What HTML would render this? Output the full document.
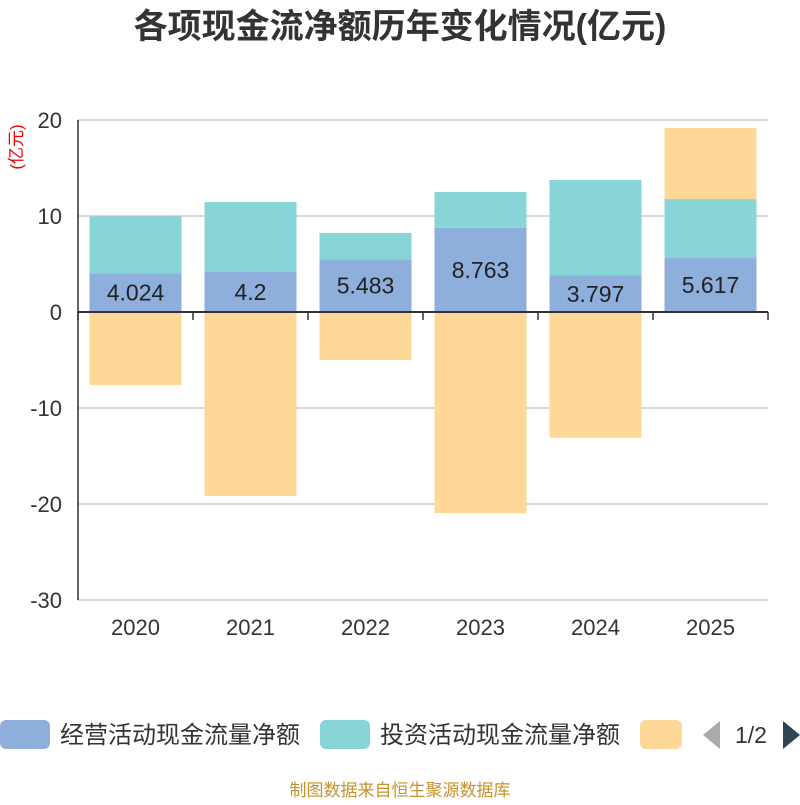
<!DOCTYPE html>
<html><head><meta charset="utf-8"><style>
body{margin:0;background:#fff;}
svg text{font-family:"Liberation Sans","Noto Sans CJK SC",sans-serif;}
</style></head><body>
<svg id="chart" width="800" height="800" xmlns="http://www.w3.org/2000/svg">
<text x="400" y="38" text-anchor="middle" font-size="34" font-weight="bold" fill="#333">各项现金流净额历年变化情况(亿元)</text>
<text transform="translate(22,147) rotate(-90)" text-anchor="middle" font-size="17" fill="#e00">(亿元)</text>
<g id="grid"></g><g id="bars"></g><g id="axes"></g>
<g>
<rect x="0" y="720" width="50" height="29" rx="6" fill="#8eaedb"/>
<text x="60" y="743" font-size="24" fill="#333">经营活动现金流量净额</text>
<rect x="320" y="720" width="50" height="29" rx="6" fill="#88d5d8"/>
<text x="380" y="743" font-size="24" fill="#333">投资活动现金流量净额</text>
<rect x="640" y="720" width="42" height="29" rx="6" fill="#fdd897"/>
<polygon points="720,721 720,749 703,735" fill="#aaa"/>
<text x="751" y="743" text-anchor="middle" font-size="23" fill="#333">1/2</text>
<polygon points="783,721 783,749 800,735" fill="#2f4554"/>
</g>
<text x="400" y="796" text-anchor="middle" font-size="17" fill="#c8922a">制图数据来自恒生聚源数据库</text>
</svg>
<script>
const categories=["2020","2021","2022","2023","2024","2025"];
const operating=[4.024,4.2,5.483,8.763,3.797,5.617];
const investing=[5.95,7.26,2.75,3.74,9.95,6.15];
const financing=[-7.6,-19.17,-5.0,-20.94,-13.1,7.4];
const yTicks=[20,10,0,-10,-20,-30];
const NS="http://www.w3.org/2000/svg";
const x0=78,x1=768,bw=92;
const y=v=>312-v*9.6;
const xc=i=>x0+(x1-x0)/categories.length*(i+0.5);
function el(t,a,p){const e=document.createElementNS(NS,t);for(const k in a)e.setAttribute(k,a[k]);p.appendChild(e);return e;}
const grid=document.getElementById('grid'),bars=document.getElementById('bars'),axes=document.getElementById('axes');
yTicks.forEach(t=>{
 const l=el('line',{x1:x0,x2:x1,y1:y(t),y2:y(t),stroke:'#ccc','stroke-width':1.5},grid);
 
 
 const tx=el('text',{x:62,y:y(t)+8,'text-anchor':'end','font-size':22,fill:'#333'},axes);
 tx.textContent=t;
 
 
});
const ya=el('line',{x1:x0,x2:x0,y1:y(20),y2:y(-30),stroke:'#333','stroke-width':1.5},axes);


const xa=el('line',{x1:x0,x2:x1,y1:y(0),y2:y(0),stroke:'#333','stroke-width':2},axes);


for(let i=0;i<=categories.length;i++){
 const xx=x0+(x1-x0)/categories.length*i;
 const tk=el('line',{x1:xx,x2:xx,y1:y(0),y2:y(0)+8,stroke:'#333','stroke-width':1.5},axes);
 
 
}
function bar(i,a,b,color,name){
 const r=el('rect',{x:xc(i)-bw/2,y:Math.min(y(a),y(b)),width:bw,height:Math.abs(y(a)-y(b)),fill:color},bars);
 
 
}
categories.forEach((c,i)=>{
 let pos=0,neg=0;
 [[operating[i],'#8eaedb','bar-operating-'+c],[investing[i],'#88d5d8','bar-investing-'+c],[financing[i],'#fdd897','bar-financing-'+c]].forEach(([v,col,n])=>{
  if(v>=0){bar(i,pos,pos+v,col,n);pos+=v;}else{bar(i,neg,neg+v,col,n);neg+=v;}
 });
 const lb=el('text',{x:xc(i),y:y(operating[i]/2)+8,'text-anchor':'middle','font-size':23,fill:'#222'},bars);
 lb.textContent=operating[i];
 
 
 const xl=el('text',{x:xc(i),y:635,'text-anchor':'middle','font-size':22,fill:'#333'},axes);
 xl.textContent=c;
 
 
});
</script>
</body></html>
